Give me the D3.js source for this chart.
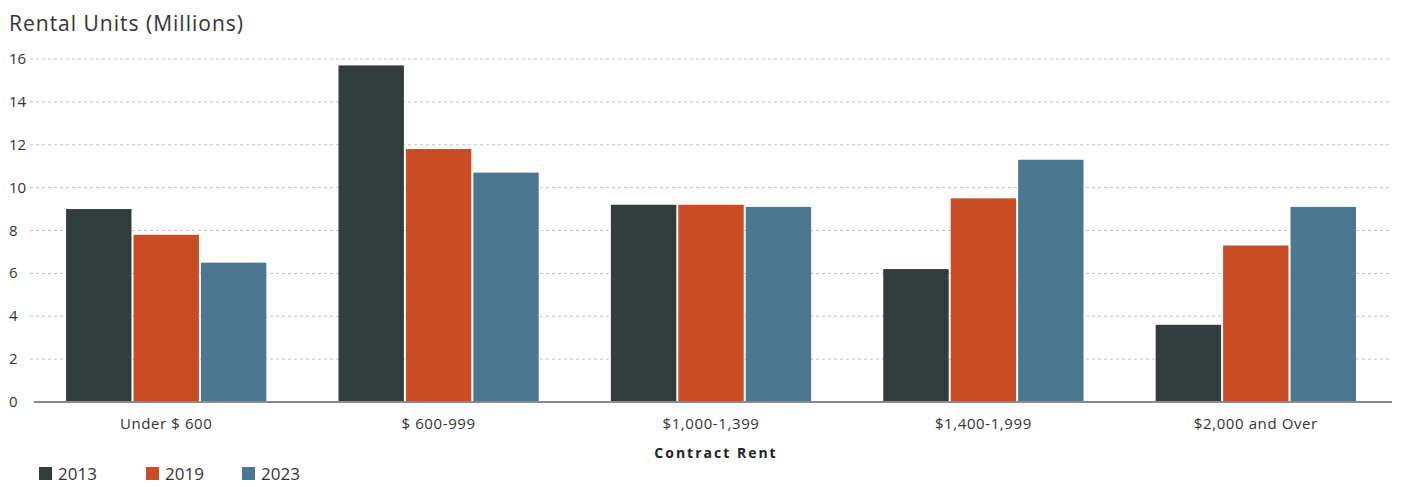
<!DOCTYPE html>
<html>
<head>
<meta charset="utf-8">
<script src="https://cdn.jsdelivr.net/npm/d3@7"></script>
<style>
  body { margin: 0; background: #fff; }
  svg { display: block; font-family: "Open Sans", "Lato", sans-serif; }
</style>
</head>
<body>
<div id="chart"></div>
<script>
"use strict";

var categories = ["Under $ 600", "$ 600-999", "$1,000-1,399", "$1,400-1,999", "$2,000 and Over"];
var years = ["2013", "2019", "2023"];
var units2013 = [9.0, 15.7, 9.2, 6.2, 3.6];
var units2019 = [7.8, 11.8, 9.2, 9.5, 7.3];
var units2023 = [6.5, 10.7, 9.1, 11.3, 9.1];
var yTicks = [0, 2, 4, 6, 8, 10, 12, 14, 16];
var colors = ["#313c3c", "#c94c24", "#4b7791"];

var width = 1405, height = 487;
var series = [units2013, units2019, units2023];

var svg = d3.select("#chart").append("svg")
    .attr("width", width).attr("height", height);

var x0 = d3.scaleBand().domain(categories).range([30, 1392])
    .paddingInner(0.25).paddingOuter(0.125);
var x1 = d3.scaleBand().domain(years).range([0, x0.bandwidth()]).padding(0.03);
var y = d3.scaleLinear().domain([0, 16]).range([402, 59]);

// title
svg.append("text").attr("x", 9).attr("y", 31)
    .attr("font-size", 21).attr("fill", "#333")
    .attr("letter-spacing", 1)
    .text("Rental Units (Millions)");

// grid
var grid = svg.append("g");
grid.selectAll("line").data(yTicks.filter(function (d) { return d > 0; }))
    .enter().append("line")
    .attr("x1", 30).attr("x2", 1392)
    .attr("y1", function (d) { return y(d); })
    .attr("y2", function (d) { return y(d); })
    .attr("stroke", "#c4c4c4").attr("stroke-width", 1)
    .attr("stroke-dasharray", "3,3");

svg.append("g").selectAll("text").data(yTicks).enter().append("text")
    .attr("x", 9).attr("y", function (d) { return y(d) + 5; })
    .attr("font-size", 15).attr("fill", "#333")
    .text(function (d) { return d; });

// bars
var groups = svg.append("g").selectAll("g").data(categories).enter().append("g")
    .attr("transform", function (d) { return "translate(" + x0(d) + ",0)"; });

groups.selectAll("rect")
    .data(function (c, i) { return years.map(function (yr, j) { return { yr: yr, v: series[j][i], j: j }; }); })
    .enter().append("rect")
    .attr("x", function (d) { return x1(d.yr); })
    .attr("width", x1.bandwidth())
    .attr("y", function (d) { return y(d.v); })
    .attr("height", function (d) { return y(0) - y(d.v); })
    .attr("fill", function (d) { return colors[d.j]; });

// baseline
svg.append("line").attr("x1", 34).attr("x2", 1392)
    .attr("y1", y(0)).attr("y2", y(0))
    .attr("stroke", "#8a8a8a").attr("stroke-width", 2);

// x labels
svg.append("g").selectAll("text").data(categories).enter().append("text")
    .attr("x", function (d) { return x0(d) + x0.bandwidth() / 2; })
    .attr("y", 429).attr("text-anchor", "middle")
    .attr("font-size", 15).attr("fill", "#333")
    .attr("letter-spacing", 0.6)
    .text(function (d) { return d; });

svg.append("text").attr("x", 716).attr("y", 458).attr("text-anchor", "middle")
    .attr("font-size", 14).attr("font-weight", "bold").attr("fill", "#222")
    .attr("letter-spacing", 2)
    .text("Contract Rent");

// legend
var legendX = [39, 146, 242];
var legend = svg.append("g").selectAll("g").data(years).enter().append("g")
    .attr("transform", function (d, i) { return "translate(" + legendX[i] + ",467)"; });
legend.append("rect").attr("width", 13).attr("height", 13)
    .attr("fill", function (d, i) { return colors[i]; });
legend.append("text").attr("x", 19).attr("y", 13)
    .attr("font-size", 17).attr("fill", "#333")
    .text(function (d) { return d; });
</script>
</body>
</html>
